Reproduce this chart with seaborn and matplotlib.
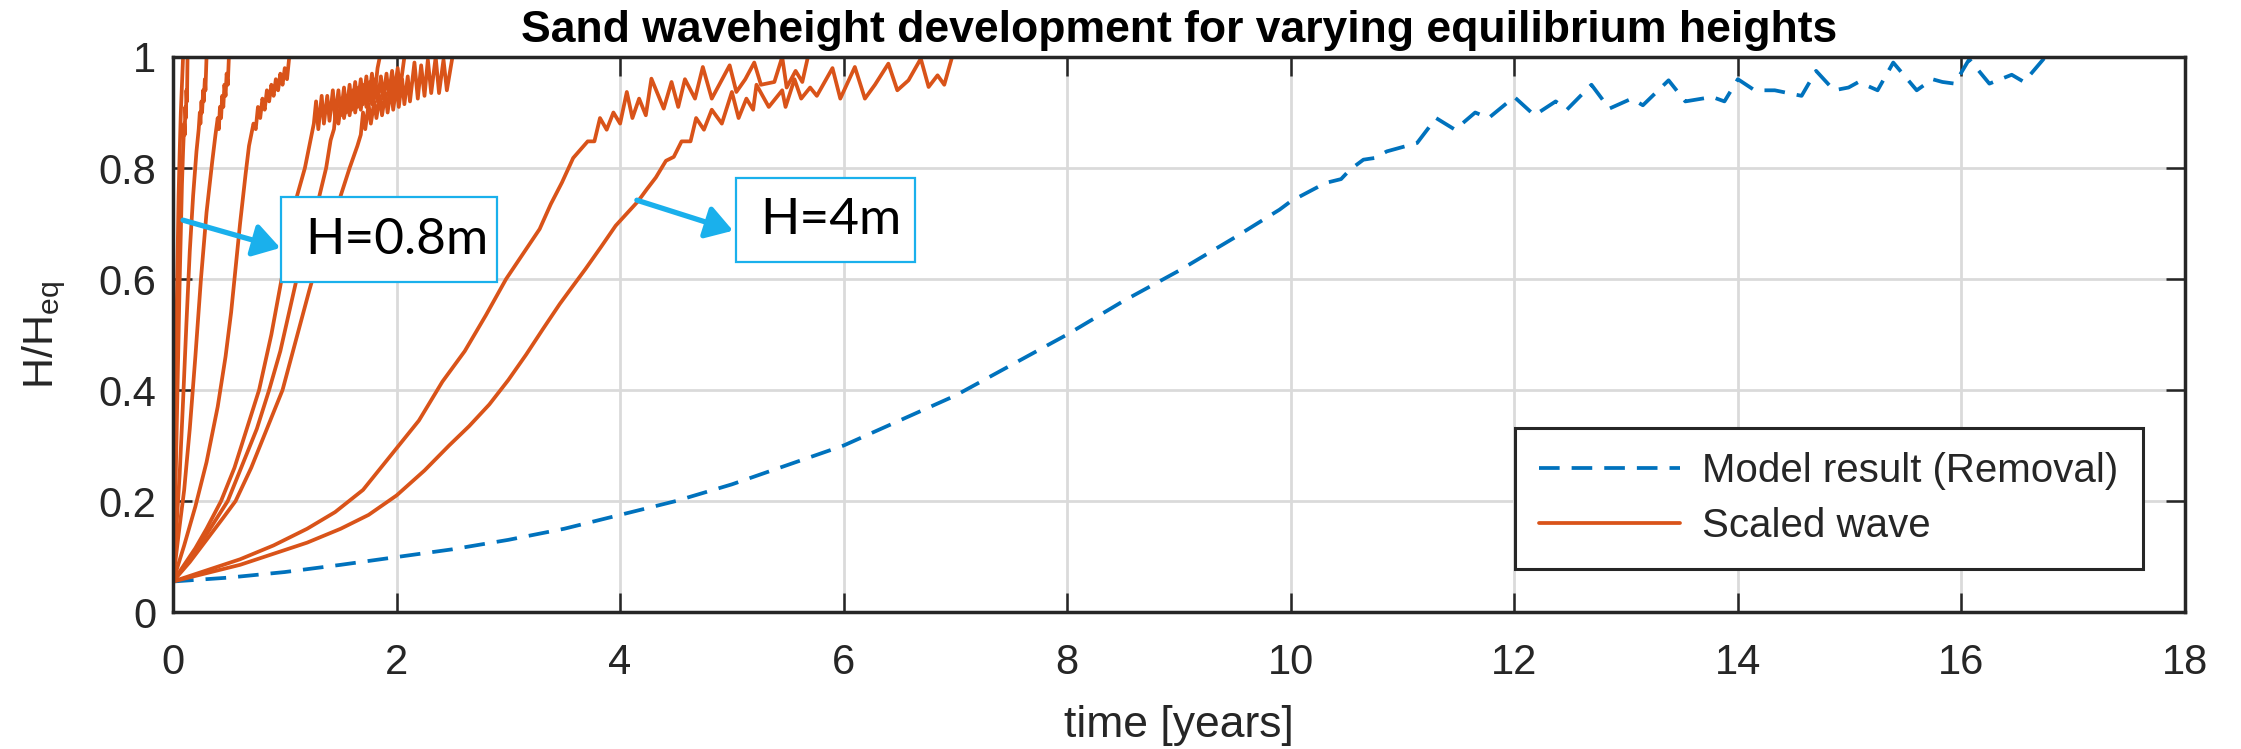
import matplotlib
matplotlib.use("Agg")
import matplotlib.pyplot as plt
import seaborn as sns
from matplotlib.lines import Line2D
from matplotlib.patches import Rectangle, FancyArrowPatch

# ---------------- data ----------------
model_t = [0, 0.5, 1, 1.5, 2, 2.5, 3, 3.5, 4, 4.5, 5, 5.5, 6, 6.5, 7, 7.5, 8, 8.5, 9, 9.5,
           9.9, 10.0, 10.31, 10.45, 10.53, 10.65, 10.75, 10.86, 11.13, 11.30, 11.47, 11.65,
           11.77, 12.0, 12.18, 12.37, 12.47, 12.69, 12.85, 13.05, 13.15, 13.38, 13.53, 13.77,
           13.88, 14.0, 14.15, 14.33, 14.57, 14.70, 14.86, 14.99, 15.08, 15.25, 15.39, 15.6,
           15.74, 15.83, 15.94, 16.07, 16.25, 16.45, 16.56, 16.75]
model_h = [0.055, 0.062, 0.072, 0.085, 0.099, 0.113, 0.13, 0.15, 0.175, 0.2, 0.23, 0.265, 0.30,
           0.345, 0.39, 0.445, 0.50, 0.56, 0.615, 0.675, 0.725, 0.74, 0.773, 0.78, 0.797, 0.815,
           0.818, 0.83, 0.845, 0.89, 0.869, 0.90, 0.89, 0.928, 0.895, 0.92, 0.905, 0.95, 0.907,
           0.925, 0.913, 0.958, 0.92, 0.928, 0.92, 0.96, 0.94, 0.94, 0.93, 0.975, 0.94, 0.945,
           0.955, 0.94, 0.99, 0.94, 0.96, 0.955, 0.952, 0.996, 0.952, 0.968, 0.955, 1.0]

wave_a_t = [0, 0.01, 0.02, 0.03, 0.04, 0.05, 0.06, 0.07, 0.08, 0.09]
wave_a_h = [0.055, 0.2, 0.35, 0.5, 0.63, 0.75, 0.83, 0.9, 0.95, 1.0]

wave_b_t = [0, 0.02, 0.04, 0.06, 0.08, 0.09, 0.10, 0.105, 0.11, 0.115, 0.12, 0.125, 0.13]
wave_b_h = [0.055, 0.2, 0.4, 0.6, 0.77, 0.83, 0.88, 0.86, 0.91, 0.89, 0.94, 0.92, 1.0]

wave_c_t = [0, 0.03, 0.06, 0.09, 0.12, 0.15, 0.18, 0.21, 0.23, 0.24, 0.245, 0.255, 0.26,
            0.27, 0.275, 0.285, 0.29, 0.30]
wave_c_h = [0.055, 0.15, 0.25, 0.38, 0.52, 0.65, 0.75, 0.83, 0.87, 0.9, 0.88, 0.92, 0.9,
            0.94, 0.92, 0.96, 0.94, 1.0]

wave_d_t = [0, 0.05, 0.1, 0.15, 0.2, 0.25, 0.3, 0.35, 0.38, 0.40, 0.41, 0.42, 0.43, 0.44,
            0.45, 0.46, 0.47, 0.48, 0.49, 0.50]
wave_d_h = [0.055, 0.14, 0.22, 0.33, 0.46, 0.6, 0.72, 0.81, 0.86, 0.89, 0.87, 0.91, 0.89,
            0.93, 0.91, 0.95, 0.93, 0.97, 0.95, 1.0]

wave_e_t = [0, 0.1, 0.2, 0.3, 0.4, 0.47, 0.52, 0.56, 0.6, 0.65, 0.68, 0.72, 0.74, 0.76,
            0.78, 0.80, 0.82, 0.84, 0.86, 0.88, 0.90, 0.92, 0.94, 0.96, 0.98, 1.0, 1.02, 1.04]
wave_e_h = [0.055, 0.12, 0.19, 0.27, 0.37, 0.46, 0.54, 0.62, 0.70, 0.79, 0.84, 0.88, 0.87,
            0.91, 0.89, 0.925, 0.905, 0.94, 0.92, 0.95, 0.93, 0.96, 0.94, 0.97, 0.95, 0.98,
            0.96, 1.0]

wave_f_t = [0, 0.1, 0.2, 0.3, 0.43, 0.55, 0.66, 0.77, 0.88, 0.99, 1.06, 1.11, 1.18, 1.23,
            1.26, 1.28, 1.30, 1.33, 1.35, 1.38, 1.40, 1.43, 1.45, 1.48, 1.50, 1.53, 1.55,
            1.58, 1.60, 1.63, 1.65, 1.68, 1.70, 1.73, 1.75, 1.78, 1.80, 1.83, 1.85]
wave_f_h = [0.055, 0.085, 0.115, 0.15, 0.2, 0.26, 0.33, 0.4, 0.5, 0.62, 0.70, 0.75, 0.80,
            0.85, 0.88, 0.92, 0.87, 0.93, 0.88, 0.93, 0.885, 0.94, 0.89, 0.94, 0.895, 0.945,
            0.90, 0.95, 0.905, 0.955, 0.91, 0.96, 0.915, 0.965, 0.92, 0.97, 0.925, 0.98, 1.0]

wave_g_t = [0, 0.15, 0.3, 0.49, 0.62, 0.75, 0.86, 0.96, 1.05, 1.14, 1.22, 1.31, 1.37, 1.41,
            1.44, 1.46, 1.48, 1.51, 1.53, 1.56, 1.58, 1.61, 1.63, 1.66, 1.68, 1.71, 1.73,
            1.76, 1.78, 1.81, 1.83, 1.86, 1.88, 1.91, 1.93, 1.96, 1.98, 2.01, 2.03, 2.07]
wave_g_h = [0.055, 0.095, 0.14, 0.2, 0.265, 0.33, 0.4, 0.47, 0.55, 0.63, 0.69, 0.75, 0.80,
            0.85, 0.87, 0.91, 0.88, 0.925, 0.89, 0.93, 0.895, 0.94, 0.90, 0.945, 0.905, 0.95,
            0.91, 0.955, 0.915, 0.96, 0.92, 0.965, 0.925, 0.97, 0.93, 0.975, 0.935, 0.98, 0.94,
            1.0]

wave_h_t = [0, 0.15, 0.3, 0.45, 0.56, 0.7, 0.84, 0.98, 1.1, 1.22, 1.32, 1.42, 1.50, 1.58,
            1.65, 1.68, 1.70, 1.72, 1.75, 1.77, 1.80, 1.82, 1.85, 1.87, 1.90, 1.92, 1.95, 1.97,
            2.0, 2.02, 2.05, 2.07, 2.10, 2.12, 2.16, 2.19, 2.22, 2.25, 2.28, 2.31, 2.35, 2.38,
            2.42, 2.45, 2.5]
wave_h_h = [0.055, 0.09, 0.13, 0.17, 0.2, 0.26, 0.33, 0.4, 0.49, 0.58, 0.65, 0.70, 0.75, 0.80,
            0.84, 0.86, 0.90, 0.87, 0.915, 0.88, 0.92, 0.89, 0.93, 0.895, 0.935, 0.90, 0.945,
            0.905, 0.95, 0.91, 0.96, 0.915, 0.965, 0.92, 0.99, 0.925, 0.985, 0.93, 0.995, 0.935,
            1.0, 0.935, 0.995, 0.94, 1.0]

wave_i_t = [0, 0.3, 0.6, 0.9, 1.2, 1.45, 1.7, 2.0, 2.2, 2.41, 2.61, 2.8, 2.98, 3.13, 3.28,
            3.38, 3.48, 3.58, 3.71, 3.77, 3.82, 3.88, 3.94, 4.0, 4.06, 4.11, 4.17, 4.23, 4.28,
            4.39, 4.46, 4.52, 4.58, 4.67, 4.74, 4.82, 4.98, 5.04, 5.12, 5.2, 5.26, 5.38, 5.45,
            5.49, 5.57, 5.63, 5.68]
wave_i_h = [0.055, 0.075, 0.095, 0.12, 0.15, 0.18, 0.22, 0.295, 0.345, 0.415, 0.47, 0.535,
            0.60, 0.645, 0.69, 0.735, 0.774, 0.818, 0.848, 0.848, 0.89, 0.869, 0.90, 0.88,
            0.937, 0.89, 0.925, 0.895, 0.961, 0.907, 0.955, 0.91, 0.96, 0.925, 0.982, 0.925,
            0.985, 0.937, 0.96, 0.99, 0.95, 0.955, 1.0, 0.945, 0.975, 0.955, 1.0]

wave_j_t = [0, 0.3, 0.6, 0.9, 1.2, 1.5, 1.75, 2.0, 2.25, 2.47, 2.65, 2.83, 3.0, 3.16, 3.31,
            3.46, 3.58, 3.69, 3.83, 3.96, 4.06, 4.16, 4.24, 4.32, 4.41, 4.48, 4.55, 4.63, 4.68,
            4.75, 4.82, 4.91, 5.0, 5.06, 5.13, 5.19, 5.22, 5.33, 5.45, 5.48, 5.56, 5.62, 5.70,
            5.76, 5.9, 5.97, 6.1, 6.19, 6.28, 6.40, 6.48, 6.58, 6.69, 6.76, 6.84, 6.9, 6.97]
wave_j_h = [0.055, 0.07, 0.085, 0.105, 0.125, 0.15, 0.175, 0.21, 0.255, 0.30, 0.335, 0.374,
            0.418, 0.464, 0.51, 0.555, 0.588, 0.618, 0.658, 0.696, 0.718, 0.74, 0.762, 0.783,
            0.813, 0.82, 0.848, 0.848, 0.89, 0.869, 0.905, 0.88, 0.937, 0.89, 0.925, 0.905,
            0.95, 0.91, 0.94, 0.91, 0.96, 0.925, 0.945, 0.93, 0.98, 0.925, 0.982, 0.925, 0.95,
            0.988, 0.94, 0.958, 0.997, 0.946, 0.967, 0.95, 1.0]

waves = [(wave_a_t, wave_a_h), (wave_b_t, wave_b_h), (wave_c_t, wave_c_h),
         (wave_d_t, wave_d_h), (wave_e_t, wave_e_h), (wave_f_t, wave_f_h),
         (wave_g_t, wave_g_h), (wave_h_t, wave_h_h), (wave_i_t, wave_i_h),
         (wave_j_t, wave_j_h)]

x_ticks = [0, 2, 4, 6, 8, 10, 12, 14, 16, 18]
y_ticks = [0, 0.2, 0.4, 0.6, 0.8, 1.0]
y_tick_labels = ["0", "0.2", "0.4", "0.6", "0.8", "1"]
legend_labels = ["Model result (Removal)", "Scaled wave"]

title = "Sand waveheight development for varying equilibrium heights"

# ---------------- style ----------------
sns.set_theme(style="white")
plt.rcParams['font.family'] = ['Liberation Sans', 'DejaVu Sans']

BLUE = '#0072BD'
ORANGE = '#D95319'
DARK = '#262626'
ANN = '#1AB0EC'
LW = 2.7
DASH = (0, (5.5, 3.2))

fig = plt.figure(figsize=(22.41, 7.49), dpi=100)
ax = fig.add_axes([0.0772, 0.1829, 0.8978, 0.7410])

sns.lineplot(x=model_t, y=model_h, ax=ax, color=BLUE, lw=LW, sort=False, estimator=None)
ax.lines[-1].set_linestyle(DASH)
for t, h in waves:
    sns.lineplot(x=t, y=h, ax=ax, color=ORANGE, lw=LW, sort=False, estimator=None)

ax.set_xlim(0, 18)
ax.set_ylim(0, 1)
ax.set_xticks(x_ticks)
ax.set_xticklabels([str(v) for v in x_ticks])
ax.set_yticks(y_ticks)
ax.set_yticklabels(y_tick_labels)

ax.grid(True, color='#dadada', lw=2.0)
ax.set_axisbelow(True)
for s in ax.spines.values():
    s.set_color(DARK)
    s.set_linewidth(2.5)
    s.set_visible(True)

ax.tick_params(axis='both', direction='in', length=14, width=1.8, top=True, right=True,
               bottom=True, left=True, labelsize=30, colors=DARK, labelcolor=DARK)
ax.tick_params(axis='x', pad=22)
ax.tick_params(axis='y', pad=12)

ax.set_title(title, fontsize=32, fontweight='bold', color='black', pad=11)
ax.set_xlabel("time [years]", fontsize=32, color=DARK)
ax.set_ylabel(r"H/H$_{\mathregular{eq}}$", fontsize=31, color=DARK)
ax.xaxis.set_label_coords(0.5, -0.168)
ax.yaxis.set_label_coords(-0.052, 0.5)

handles = [Line2D([], [], color=BLUE, lw=LW, linestyle=DASH),
           Line2D([], [], color=ORANGE, lw=LW)]
leg = ax.legend(handles, legend_labels, loc='lower right', bbox_to_anchor=(0.979, 0.077),
                fontsize=29, frameon=True, fancybox=False, edgecolor=DARK, facecolor='white',
                handlelength=3.5, handletextpad=0.55, borderpad=0.6, labelspacing=0.42,
                borderaxespad=0)
leg.get_frame().set_linewidth(2.2)
leg.get_frame().set_alpha(1)

# ---------------- annotations ----------------
boxes = [((0.969, 0.595), 2.895 - 0.969, 0.748 - 0.595, (2.0, 0.670), "H=0.8m",
          (0.09, 0.706), (0.96, 0.656)),
         ((5.04, 0.631), 6.64 - 5.04, 0.782 - 0.631, (5.885, 0.706), "H=4m",
          (4.15, 0.742), (5.01, 0.687))]
for (xy, w, h, tc, txt, a0, a1) in boxes:
    ax.add_patch(Rectangle(xy, w, h, facecolor='white', edgecolor=ANN, lw=1.6, zorder=5))
    ax.text(tc[0], tc[1], txt, fontsize=37, family=['Lato', 'DejaVu Sans'], ha='center',
            va='center', color='black', zorder=6)
    ax.add_patch(FancyArrowPatch(a0, a1, arrowstyle='-|>,head_length=0.8,head_width=0.5',
                                 mutation_scale=20, color=ANN, lw=3.8, zorder=6,
                                 shrinkA=0, shrinkB=0))

fig.savefig("out.png", dpi=100, facecolor='white')
